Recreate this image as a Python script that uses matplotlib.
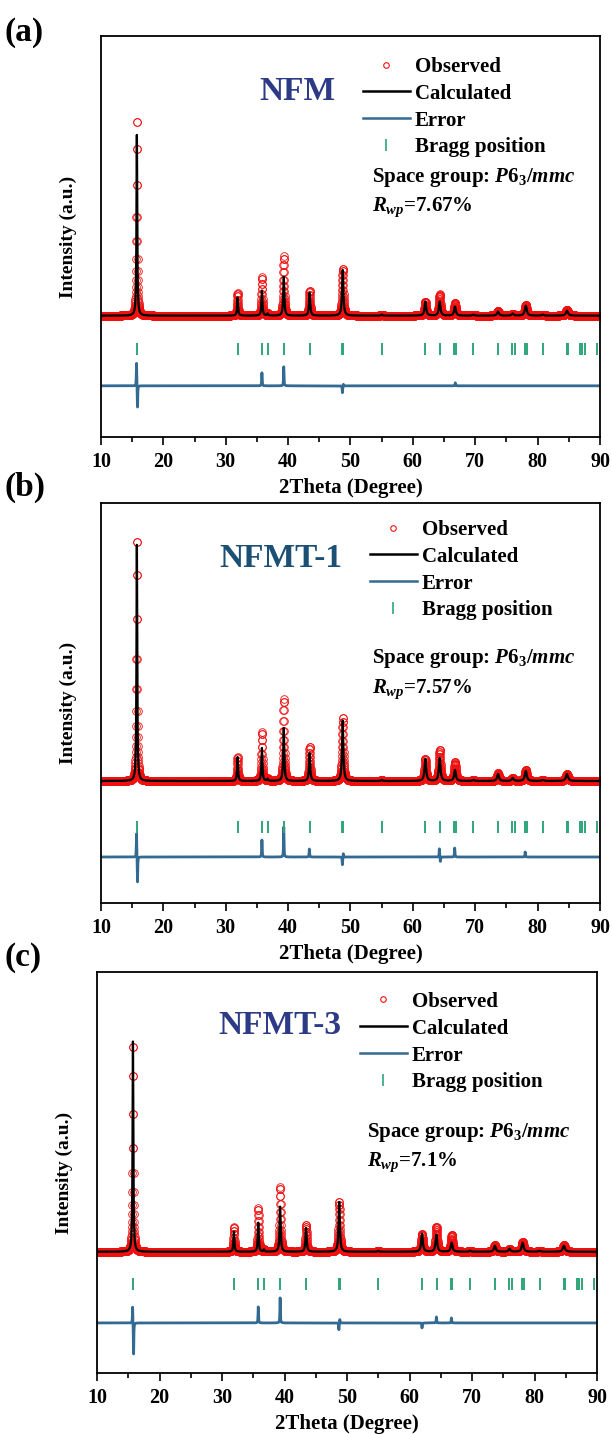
import numpy as np
import matplotlib.pyplot as plt
from matplotlib.lines import Line2D

plt.rcParams['font.family'] = ['Liberation Serif', 'DejaVu Serif']
plt.rcParams['font.weight'] = 'bold'
plt.rcParams['axes.labelweight'] = 'bold'
plt.rcParams['mathtext.fontset'] = 'custom'
plt.rcParams['mathtext.rm'] = 'Liberation Serif:bold'
plt.rcParams['mathtext.it'] = 'Liberation Serif:italic:bold'
plt.rcParams['mathtext.bf'] = 'Liberation Serif:bold'

# Reflexit (2theta) ja piikkien leveydet, yhteiset kaikille näytteille
peak_pos = [15.75, 31.9, 35.8, 36.7, 39.3, 43.45, 48.75, 55.0, 62.0, 64.3,
            66.75, 69.7, 73.65, 76.0, 78.1, 80.8, 84.7]
peak_fwhm = [0.14, 0.18, 0.18, 0.2, 0.2, 0.22, 0.24, 0.26, 0.3, 0.3,
             0.32, 0.32, 0.34, 0.34, 0.36, 0.38, 0.4]

# Bragg-paikat
bragg_pos = [15.72, 31.91, 35.76, 36.72, 39.34, 43.46, 48.7, 48.8, 55.0,
             61.95, 64.35, 66.65, 66.85, 69.7, 73.71, 75.85, 76.38, 78.05,
             78.25, 80.82, 84.7, 84.8, 86.8, 87.18, 87.6, 89.58]

# Näytteet
names = ['NFM', 'NFMT-1', 'NFMT-3']
panel_tags = ['(a)', '(b)', '(c)']
rwp = ['7.67%', '7.57%', '7.1%']

calc_NFM = [184, 18, 25, 2, 39, 23, 46, 1, 14, 14, 9, 1, 4, 2, 10, 1, 5]
obs_NFM = [197, 23, 38, 2, 59, 25, 47, 1, 14, 21, 13, 1, 5, 2, 11, 1, 6]
calc_T1 = [241, 24, 33, 2, 53, 28, 61, 1, 22, 23, 11, 1, 7, 3, 10, 1, 7]
obs_T1 = [244, 24, 49, 2, 82, 34, 63, 1, 22, 31, 19, 1, 8, 3, 11, 1, 7]
calc_T3 = [214, 20, 29, 2, 45, 24, 50, 1, 18, 17, 9, 1, 6, 3, 9, 1, 6]
obs_T3 = [208, 25, 44, 2, 65, 27, 50, 1, 18, 25, 17, 1, 7, 3, 10, 1, 7]

# Erotuskäyrän piikit (paikka, amplitudi)
err_pos_NFM = [15.7, 15.85, 35.8, 39.3, 48.7, 48.85, 66.8]
err_amp_NFM = [24, -24, 13, 19, -7, 2, 3]
err_pos_T1 = [15.7, 15.85, 35.8, 39.3, 43.4, 48.7, 48.85, 64.25, 64.4, 66.7, 78.0]
err_amp_T1 = [25, -28, 17, 30, 8, -8, 4, 9, -5, 9, 5]
err_pos_T3 = [15.7, 15.85, 35.8, 39.3, 48.7, 48.85, 62.0, 64.3, 66.7]
err_amp_T3 = [18, -34, 16, 25, -7, 4, -5, 6, 5]

# Tasot: tausta, Bragg-rivi, erotuskäyrän nollataso
background = [121, 122, 121]
bragg_level = [88, 76, 89]
error_level = [51, 46, 50]

two_theta = np.arange(10, 90.001, 0.02)


def profile(pos, amp, fwhm, base):
    y = np.full_like(two_theta, float(base))
    for p, a, w in zip(pos, amp, fwhm):
        y += a / (1 + ((two_theta - p) / (w / 2)) ** 2)
    return y


calcs = [calc_NFM, calc_T1, calc_T3]
obss = [obs_NFM, obs_T1, obs_T3]
err_pos = [err_pos_NFM, err_pos_T1, err_pos_T3]
err_amp = [err_amp_NFM, err_amp_T1, err_amp_T3]

title_colors = ['#2d3b86', '#1b4f74', '#2d3b86']
red = '#f01010'
err_col = '#336a92'
bragg_col = '#2fa57a'

# Akselien paikat (vasen, ala, leveys, korkeus)
boxes = [[0.165, 0.6953, 0.8154, 0.2796],
         [0.165, 0.3703, 0.8154, 0.2789],
         [0.1585, 0.0425, 0.817, 0.2796]]
tag_y = [0.977, 0.6604, 0.332]
leg_anchor = [(0.525, 0.948), (0.539, 0.958), (0.526, 0.951)]
sg_pos = [(0.543, 0.648, 0.572), (0.543, 0.6125, 0.535), (0.54, 0.601, 0.526)]
name_pos = [(0.393, 0.862), (0.36, 0.862), (0.366, 0.866)]

fig = plt.figure(figsize=(6.12, 14.34), dpi=100)

for i in range(3):
    ax = fig.add_axes(boxes[i])
    calc = profile(peak_pos, calcs[i], peak_fwhm, background[i])
    obs = profile(peak_pos, obss[i], peak_fwhm, background[i])
    err = profile(err_pos[i], err_amp[i], [0.08] * len(err_pos[i]), error_level[i])

    ax.plot(two_theta, obs, 'o', mfc='none', mec=red, ms=5.5, mew=0.6)
    ax.plot(two_theta, calc, color='black', lw=1.6)
    ax.plot(two_theta, err, color=err_col, lw=2.0)
    ax.plot(bragg_pos, [bragg_level[i]] * len(bragg_pos), '|', color=bragg_col,
            ms=8.5, mew=1.4)

    ax.set_xlim(10, 90)
    ax.set_ylim(0, 400)
    ax.set_xticks(np.arange(10, 91, 10))
    ax.set_xticks(np.arange(15, 90, 10), minor=True)
    ax.set_yticks([])
    ax.tick_params(axis='x', which='major', direction='out', length=6, width=1.2,
                   labelsize=14.5, pad=5)
    ax.tick_params(axis='x', which='minor', direction='out', length=3.5, width=1.2)
    for s in ax.spines.values():
        s.set_linewidth(1.3)

    ax.set_xlabel('2Theta (Degree)', fontsize=15, labelpad=4)
    ax.set_ylabel('Intensity (a.u.)', fontsize=14)
    ax.yaxis.set_label_coords(-0.048, 0.5)

    ax.text(name_pos[i][0], name_pos[i][1], names[i], transform=ax.transAxes,
            ha='center', va='center', fontsize=24, color=title_colors[i])

    handles = [Line2D([], [], ls='none', marker='o', mfc='none', mec=red, ms=4, mew=0.8),
               Line2D([], [], color='black', lw=1.8),
               Line2D([], [], color=err_col, lw=1.8),
               Line2D([], [], ls='none', marker='|', color=bragg_col, ms=8.5, mew=1.2)]
    ax.legend(handles, ['Observed', 'Calculated', 'Error', 'Bragg position'],
              loc='upper left', bbox_to_anchor=leg_anchor[i], frameon=False,
              fontsize=15, borderpad=0, borderaxespad=0, handlelength=2.25,
              handletextpad=0.25, labelspacing=0.33, numpoints=1)

    x0, ysg, yr = sg_pos[i]
    ax.text(x0, ysg, r'Space group: $\mathit{P6_3/mmc}$', transform=ax.transAxes,
            ha='left', va='center', fontsize=15)
    ax.text(x0, yr, r'$R_{wp}$=' + rwp[i], transform=ax.transAxes,
            ha='left', va='center', fontsize=15)

    fig.text(0.008, tag_y[i], panel_tags[i], fontsize=24, ha='left', va='center')

fig.savefig('out.png', dpi=100)
